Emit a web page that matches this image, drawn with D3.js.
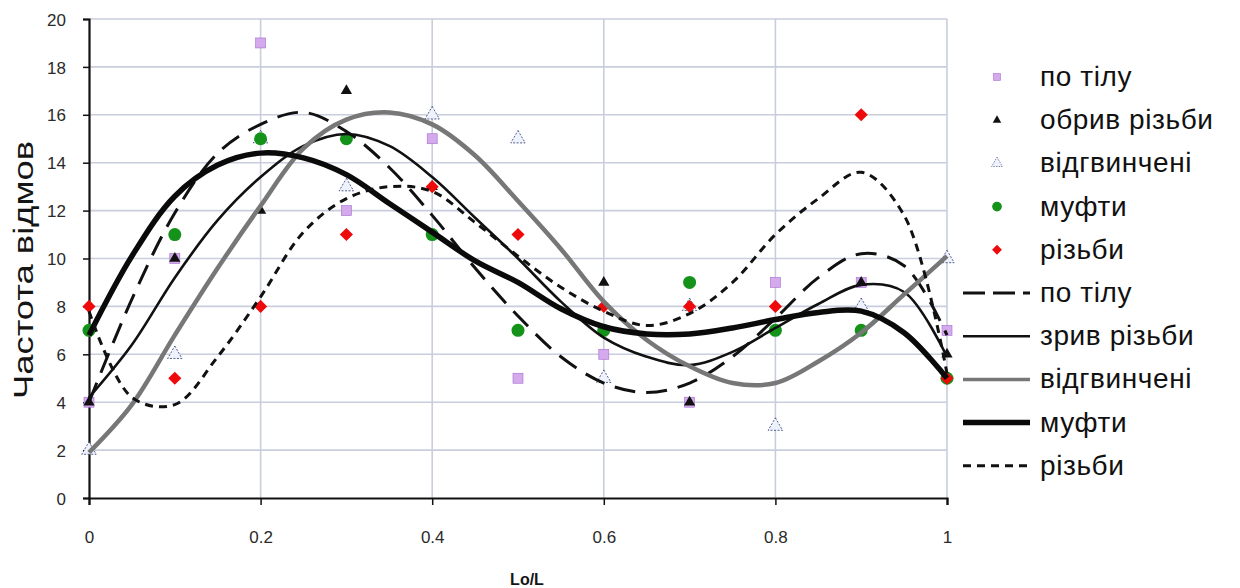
<!DOCTYPE html>
<html>
<head>
<meta charset="utf-8">
<script src="https://cdn.jsdelivr.net/npm/d3@7"></script>
<style>
  body { margin: 0; background: #fff; }
  text { font-family: "Liberation Sans", Arial, sans-serif; }
</style>
</head>
<body>
<div id="chart"></div>
<script>
const width = 1240;
const height = 588;

// measured points
const xValues = [0, 0.1, 0.2, 0.3, 0.4, 0.5, 0.6, 0.7, 0.8, 0.9, 1];
const poTilu = [4, 10, 19, 12, 15, 5, 6, 4, 9, 9, 7];
const obryv = [4, 10, 12, 17, 13, 7, 9, 4, 7, 9, 6];
const vidgv = [2, 6, 15, 13, 16, 15, 5, 8, 3, 8, 10];
const mufty = [7, 11, 15, 15, 11, 7, 7, 9, 7, 7, 5];
const rizby = [8, 5, 8, 11, 13, 11, 8, 8, 8, 16, 5];

// trend lines, every 0.05
const trendX = [0, 0.05, 0.1, 0.15, 0.2, 0.25, 0.3, 0.35, 0.4, 0.45, 0.5,
                0.55, 0.6, 0.65, 0.7, 0.75, 0.8, 0.85, 0.9, 0.95, 1];
const trendPoTilu = [4.0, 8.3, 11.9, 14.4, 15.6, 16.1, 15.3, 13.8, 11.8, 9.6, 7.6,
                     5.9, 4.8, 4.4, 4.8, 5.9, 7.5, 9.2, 10.2, 9.7, 6.8];
const trendZryv = [4.2, 6.4, 9.2, 11.6, 13.4, 14.7, 15.2, 14.7, 13.4, 11.7, 10.0,
                   8.2, 6.7, 5.9, 5.55, 6.1, 7.1, 8.1, 8.9, 8.6, 5.9];
const trendVidgv = [1.9, 3.9, 6.8, 9.6, 12.2, 14.6, 15.8, 16.1, 15.6, 14.3, 12.4,
                    10.4, 8.2, 6.6, 5.5, 4.8, 4.8, 5.7, 6.9, 8.5, 10.1];
const trendMufty = [6.8, 10.1, 12.6, 13.9, 14.4, 14.2, 13.5, 12.3, 11.1, 9.9, 9.0,
                    7.9, 7.15, 6.85, 6.85, 7.1, 7.45, 7.75, 7.8, 6.9, 5.0];
const trendRizby = [7.8, 4.2, 3.9, 5.9, 8.4, 11.1, 12.5, 13.0, 12.8, 11.5, 10.1,
                    8.8, 7.8, 7.2, 7.7, 9.0, 11.0, 12.5, 13.6, 11.8, 5.2];

const yTicks = [0, 2, 4, 6, 8, 10, 12, 14, 16, 18, 20];
const xTicks = [0, 0.2, 0.4, 0.6, 0.8, 1];

const svg = d3.select("#chart")
    .append("svg")
    .attr("width", width)
    .attr("height", height);

const x = d3.scaleLinear().domain([0, 1]).range([89, 947]);
const y = d3.scaleLinear().domain([0, 20]).range([498, 19]);

// grid
svg.append("g")
    .selectAll("line")
    .data(yTicks.filter(d => d > 0))
    .enter().append("line")
    .attr("x1", x(0)).attr("x2", x(1))
    .attr("y1", d => y(d)).attr("y2", d => y(d))
    .attr("stroke", "#c9cedd")
    .attr("stroke-width", 1.6);

svg.append("g")
    .selectAll("line")
    .data(xTicks.filter(d => d > 0))
    .enter().append("line")
    .attr("x1", d => x(d)).attr("x2", d => x(d))
    .attr("y1", y(0)).attr("y2", y(20))
    .attr("stroke", "#c9cedd")
    .attr("stroke-width", 1.6);

// axes
const yAxis = svg.append("g")
    .attr("transform", `translate(${x(0)},0)`)
    .call(d3.axisLeft(y).tickValues(yTicks).tickSize(6).tickPadding(17));
const xAxis = svg.append("g")
    .attr("transform", `translate(0,${y(0)})`)
    .call(d3.axisBottom(x).tickValues(xTicks).tickSize(7).tickPadding(26)
        .tickFormat(d => d === 0 || d === 1 ? String(d) : d3.format(".1f")(d)));

[yAxis, xAxis].forEach(a => {
    a.select(".domain").attr("stroke", "#111").attr("stroke-width", 2.2);
    a.selectAll(".tick line").attr("stroke", "#111").attr("stroke-width", 1.5);
    a.selectAll(".tick text")
        .attr("font-size", 17)
        .attr("fill", "#2a2a2a")
        .style("font-family", "'Liberation Sans', Arial, sans-serif");
});
yAxis.selectAll(".tick text").attr("dy", "0.36em");

// titles
svg.append("text")
    .attr("transform", "translate(33,270) rotate(-90)")
    .attr("text-anchor", "middle")
    .attr("font-size", 27)
    .attr("fill", "#151515")
    .attr("textLength", 258)
    .attr("lengthAdjust", "spacingAndGlyphs")
    .text("Частота  відмов");

svg.append("text")
    .attr("x", 527)
    .attr("y", 585)
    .attr("text-anchor", "middle")
    .attr("font-size", 16)
    .attr("font-weight", "bold")
    .attr("fill", "#151515")
    .text("Lo/L");

// markers
const tri = d3.symbol().type(d3.symbolTriangle);
const marker = {
    poTilu: g => g.append("rect").attr("x", -5).attr("y", -5).attr("width", 10).attr("height", 10)
        .attr("fill", "#d4aaec").attr("stroke", "#a56cd0").attr("stroke-width", 0.6),
    obryv: g => g.append("path").attr("d", tri.size(55)()).attr("fill", "#111"),
    vidgv: g => g.append("path").attr("d", tri.size(90)()).attr("fill", "#eef2fc")
        .attr("stroke", "#2c3a70").attr("stroke-width", 0.8).attr("stroke-dasharray", "2,1.5"),
    mufty: g => g.append("circle").attr("r", 6.5).attr("fill", "#14921a"),
    rizby: g => g.append("path").attr("d", d3.symbol().type(d3.symbolDiamond2).size(110)())
        .attr("fill", "#ee0a0a")
};

const pointSeries = [
    { key: "poTilu", values: poTilu, name: "по тілу" },
    { key: "obryv", values: obryv, name: "обрив різьби" },
    { key: "vidgv", values: vidgv, name: "відгвинчені" },
    { key: "mufty", values: mufty, name: "муфти" },
    { key: "rizby", values: rizby, name: "різьби" }
];

pointSeries.forEach(s => {
    svg.append("g")
        .selectAll("g")
        .data(s.values)
        .enter().append("g")
        .attr("transform", (d, i) => `translate(${x(xValues[i])},${y(d)})`)
        .each(function() { marker[s.key](d3.select(this)); });
});

// trend lines
const lineSeries = [
    { values: trendPoTilu, name: "по тілу", stroke: "#111", width: 3, dash: "21,11" },
    { values: trendZryv, name: "зрив різьби", stroke: "#111", width: 2.6, dash: null },
    { values: trendVidgv, name: "відгвинчені", stroke: "#777", width: 4.5, dash: null },
    { values: trendMufty, name: "муфти", stroke: "#0a0a0a", width: 5.5, dash: null },
    { values: trendRizby, name: "різьби", stroke: "#111", width: 3, dash: "8,6" }
];

const line = d3.line()
    .x((d, i) => x(trendX[i]))
    .y(d => y(d))
    .curve(d3.curveCatmullRom.alpha(0.5));

lineSeries.forEach(s => {
    svg.append("path")
        .datum(s.values)
        .attr("d", line)
        .attr("fill", "none")
        .attr("stroke", s.stroke)
        .attr("stroke-width", s.width)
        .attr("stroke-dasharray", s.dash)
        .attr("stroke-linecap", "butt");
});

// legend
const legend = svg.append("g");
const rowY = i => 77 + i * 43.2;

function legendText(i, name) {
    legend.append("text")
        .attr("x", 1040).attr("y", rowY(i) + 9)
        .attr("font-size", 28)
        .attr("letter-spacing", 0.6)
        .attr("fill", "#111")
        .text(name);
}

pointSeries.forEach((s, i) => {
    const g = legend.append("g");
    marker[s.key](g);
    g.attr("transform", `translate(997,${rowY(i)}) scale(0.75)`);
    legendText(i, s.name);
});

lineSeries.forEach((s, j) => {
    const i = j + 5;
    legend.append("line")
        .attr("x1", 963).attr("x2", 1030)
        .attr("y1", rowY(i)).attr("y2", rowY(i))
        .attr("stroke", s.stroke)
        .attr("stroke-width", s.width === 4.5 ? 3.5 : s.width)
        .attr("stroke-dasharray", s.dash === "21,11" ? "22,8" : s.dash);
    legendText(i, s.name);
});
</script>
</body>
</html>
